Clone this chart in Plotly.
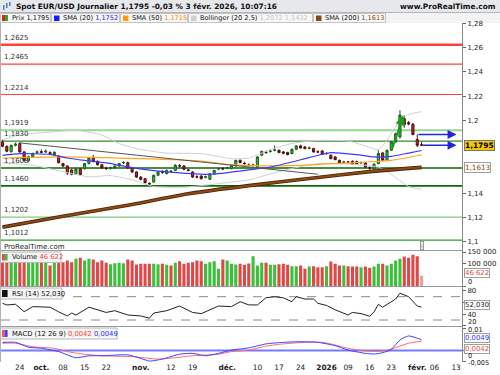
import plotly.graph_objects as go
import pandas as pd

# ------------------------------------------------------------------ data
FIRST_DAY = "2025-09-18"
LAST_AXIS_DAY = "2026-02-13"
MARKET_HOLIDAYS = ["2025-12-25"]

OPEN = [1.1822, 1.1785, 1.1742, 1.1795, 1.1809, 1.1740, 1.1667, 1.1702, 1.1735, 1.1742,
        1.1740, 1.1735, 1.1718, 1.1705, 1.1644, 1.1624, 1.1592, 1.1556, 1.1600, 1.1602,
        1.1644, 1.1691, 1.1663, 1.1635, 1.1605, 1.1606, 1.1608, 1.1624, 1.1650, 1.1652,
        1.1608, 1.1575, 1.1533, 1.1520, 1.1480, 1.1492, 1.1548, 1.1575, 1.1561, 1.1580,
        1.1588, 1.1628, 1.1624, 1.1592, 1.1575, 1.1535, 1.1541, 1.1530, 1.1514, 1.1561,
        1.1600, 1.1602, 1.1606, 1.1602, 1.1624, 1.1671, 1.1646, 1.1632, 1.1630, 1.1616,
        1.1713, 1.1738, 1.1744, 1.1752, 1.1754, 1.1740, 1.1735, 1.1727, 1.1762, 1.1790,
        1.1781, 1.1770, 1.1768, 1.1742, 1.1748, 1.1725, 1.1713, 1.1699, 1.1671, 1.1655,
        1.1658, 1.1663, 1.1660, 1.1650, 1.1649, 1.1610, 1.1600, 1.1644, 1.1731, 1.1671,
        1.1754, 1.1823, 1.1864, 1.2015, 1.1982, 1.1969, 1.1842, 1.1800]
HIGH = [1.1840, 1.1795, 1.1800, 1.1818, 1.1818, 1.1748, 1.1710, 1.1735, 1.1752, 1.1760,
        1.1762, 1.1745, 1.1745, 1.1712, 1.1650, 1.1630, 1.1600, 1.1608, 1.1606, 1.1650,
        1.1695, 1.1715, 1.1670, 1.1640, 1.1618, 1.1620, 1.1630, 1.1650, 1.1665, 1.1660,
        1.1612, 1.1580, 1.1540, 1.1525, 1.1490, 1.1552, 1.1580, 1.1590, 1.1595, 1.1592,
        1.1640, 1.1640, 1.1632, 1.1600, 1.1580, 1.1548, 1.1548, 1.1545, 1.1565, 1.1592,
        1.1612, 1.1614, 1.1618, 1.1635, 1.1676, 1.1678, 1.1660, 1.1645, 1.1642, 1.1705,
        1.1750, 1.1750, 1.1760, 1.1795, 1.1760, 1.1748, 1.1742, 1.1768, 1.1795, 1.1800,
        1.1788, 1.1785, 1.1775, 1.1752, 1.1755, 1.1738, 1.1720, 1.1705, 1.1676, 1.1668,
        1.1666, 1.1670, 1.1668, 1.1662, 1.1655, 1.1620, 1.1645, 1.1754, 1.1740, 1.1760,
        1.1830, 1.1900, 1.2085, 1.2040, 1.1995, 1.1980, 1.1884, 1.1822]
LOW = [1.1780, 1.1738, 1.1735, 1.1785, 1.1735, 1.1660, 1.1655, 1.1695, 1.1722, 1.1728,
       1.1730, 1.1715, 1.1710, 1.1645, 1.1615, 1.1550, 1.1548, 1.1550, 1.1545, 1.1595,
       1.1638, 1.1655, 1.1628, 1.1600, 1.1592, 1.1595, 1.1600, 1.1618, 1.1640, 1.1600,
       1.1568, 1.1525, 1.1505, 1.1480, 1.1468, 1.1485, 1.1540, 1.1560, 1.1555, 1.1568,
       1.1582, 1.1615, 1.1590, 1.1580, 1.1525, 1.1522, 1.1512, 1.1522, 1.1508, 1.1555,
       1.1590, 1.1592, 1.1598, 1.1598, 1.1618, 1.1648, 1.1635, 1.1620, 1.1618, 1.1610,
       1.1705, 1.1725, 1.1735, 1.1745, 1.1730, 1.1722, 1.1712, 1.1720, 1.1755, 1.1768,
       1.1762, 1.1762, 1.1735, 1.1730, 1.1715, 1.1718, 1.1680, 1.1672, 1.1643, 1.1645,
       1.1646, 1.1632, 1.1634, 1.1642, 1.1610, 1.1592, 1.1590, 1.1638, 1.1665, 1.1665,
       1.1748, 1.1815, 1.1850, 1.1940, 1.1960, 1.1878, 1.1780, 1.1790]
CLOSE = [1.1787, 1.1746, 1.1795, 1.1805, 1.1740, 1.1671, 1.1700, 1.1726, 1.1740, 1.1738,
         1.1746, 1.1727, 1.1737, 1.1652, 1.1624, 1.1566, 1.1556, 1.1600, 1.1553, 1.1644,
         1.1691, 1.1660, 1.1635, 1.1608, 1.1603, 1.1610, 1.1624, 1.1644, 1.1652, 1.1608,
         1.1575, 1.1533, 1.1514, 1.1487, 1.1476, 1.1548, 1.1575, 1.1572, 1.1588, 1.1578,
         1.1630, 1.1624, 1.1597, 1.1588, 1.1533, 1.1533, 1.1520, 1.1535, 1.1561, 1.1588,
         1.1602, 1.1600, 1.1608, 1.1630, 1.1671, 1.1652, 1.1644, 1.1630, 1.1632, 1.1699,
         1.1745, 1.1735, 1.1746, 1.1756, 1.1735, 1.1730, 1.1718, 1.1762, 1.1790, 1.1773,
         1.1768, 1.1773, 1.1740, 1.1740, 1.1721, 1.1727, 1.1685, 1.1677, 1.1649, 1.1657,
         1.1655, 1.1638, 1.1640, 1.1652, 1.1616, 1.1608, 1.1640, 1.1727, 1.1671, 1.1754,
         1.1823, 1.1890, 1.2045, 1.1965, 1.1972, 1.1884, 1.1795, 1.1795]
VOLUME = [105800, 104500, 106500, 105000, 104200, 106800, 105500, 104000, 106000, 105200,
          104800, 91300, 105800, 108700, 105800, 113000, 105800, 120300, 124600, 113000,
          120300, 117400, 105800, 113000, 103000, 97100, 101400, 103000, 101400, 117400,
          113000, 95700, 98600, 98600, 98600, 98600, 97100, 98600, 94200, 91300,
          103000, 110100, 98600, 103000, 105800, 113000, 110100, 98600, 105800, 110100,
          76800, 117400, 113000, 98600, 95700, 98600, 94200, 100000, 131900, 91300,
          103000, 103000, 94200, 94200, 97100, 98600, 94200, 88400, 88400, 91300,
          76800, 87000, 88400, 84100, 84100, 88400, 108700, 98600, 91300, 91300,
          88400, 87000, 87000, 84100, 87000, 81200, 87000, 98600, 98600, 91300,
          98600, 113000, 120300, 130400, 124600, 137700, 131900, 46622]

# indicator lines (trading-day index, value)
SMA20_IDX = [0, 4, 11, 15, 19, 24, 31, 38, 48, 57, 62, 67, 70, 74, 76, 82, 86, 90, 94, 97]
SMA20_VAL = [1.1712, 1.1726, 1.1720, 1.1690, 1.1670, 1.1650, 1.1605, 1.1576, 1.1556, 1.1592,
             1.1616, 1.1657, 1.1685, 1.1721, 1.1735, 1.1718, 1.1699, 1.1704, 1.1731, 1.1752]
SMA50_IDX = [0, 13, 32, 46, 53, 60, 69, 77, 84, 90, 97]
SMA50_VAL = [1.1690, 1.1700, 1.1685, 1.1665, 1.1635, 1.1625, 1.1630, 1.1644, 1.1657, 1.1671, 1.1715]
SMA200_IDX = [0, 14, 29, 43, 57, 72, 85, 97]
SMA200_VAL = [1.1120, 1.1210, 1.1300, 1.1395, 1.1462, 1.1525, 1.1578, 1.1613]
BB_UP_IDX = [0, 4, 13, 17, 23, 27, 32, 38, 46, 53, 57, 62, 67, 73, 80, 84, 87, 90, 92, 94, 97]
BB_UP_VAL = [1.1840, 1.1880, 1.1910, 1.1919, 1.1880, 1.1809, 1.1760, 1.1731, 1.1726, 1.1685,
             1.1690, 1.1760, 1.1810, 1.1835, 1.1830, 1.1790, 1.1760, 1.1890, 1.2000, 1.2050, 1.2072]
BB_LO_IDX = [0, 7, 15, 20, 25, 30, 35, 42, 48, 53, 57, 65, 73, 80, 87, 91, 94, 97]
BB_LO_VAL = [1.1650, 1.1630, 1.1570, 1.1535, 1.1545, 1.1510, 1.1455, 1.1450, 1.1470, 1.1492,
             1.1510, 1.1588, 1.1644, 1.1640, 1.1615, 1.1530, 1.1455, 1.1432]

RSI_IDX = [0, 1, 3, 5, 7, 11, 13, 15, 16, 17, 20, 24, 26, 29, 32, 34, 35, 38, 41, 44, 46, 50,
           53, 55, 57, 59, 61, 63, 65, 67, 68, 70, 72, 73, 75, 77, 80, 81, 83, 85, 86, 87, 88,
           90, 91, 92, 94, 96, 97]
RSI_VAL = [58.7, 55.8, 57.0, 44.3, 52.9, 52.0, 44.0, 37.0, 42.0, 38.6, 52.0, 43.0, 46.0, 38.6,
           37.0, 33.0, 42.0, 46.0, 54.0, 43.0, 41.0, 54.0, 53.0, 61.4, 56.0, 55.8, 68.3, 70.0,
           68.0, 61.4, 70.0, 66.0, 66.0, 58.7, 55.0, 47.5, 38.6, 43.0, 41.0, 36.5, 44.0, 57.0,
           52.0, 61.4, 66.0, 76.0, 70.0, 54.0, 52.03]

MACD_IDX = [0, 3, 6, 9, 13, 17, 20, 23, 29, 32, 34, 37, 41, 44, 47, 50, 53, 57, 61, 65, 69,
            73, 77, 80, 84, 86, 88, 90, 92, 94, 97]
MACD_VAL = [0.0037, 0.0037, 0.0015, 0.0010, -0.0005, -0.0033, -0.0024, -0.0024, -0.0020,
            -0.0036, -0.0048, -0.0039, -0.0017, -0.0013, -0.0024, -0.0013, 0.0002, 0.0012,
            0.0030, 0.0037, 0.0040, 0.0037, 0.0022, 0.0002, -0.0013, -0.0016, -0.0010, 0.0005,
            0.0048, 0.0066, 0.0049]
SIG_IDX = [0, 3, 7, 12, 15, 19, 23, 30, 36, 40, 44, 50, 53, 57, 61, 65, 70, 74, 77, 80, 84,
           88, 91, 94, 97]
SIG_VAL = [0.0033, 0.0033, 0.0017, 0.0010, -0.0005, -0.0017, -0.0024, -0.0028, -0.0039, -0.0033,
           -0.0024, -0.0017, -0.0005, 0.0002, 0.0020, 0.0030, 0.0037, 0.0037, 0.0025, 0.0010,
           -0.0002, -0.0003, 0.0013, 0.0033, 0.0042]

LEVELS = [1.2625, 1.2465, 1.2214, 1.1919, 1.1830, 1.1608, 1.1460, 1.1202, 1.1012]
LEVEL_TEXT = ["1,2625", "1,2465", "1,2214", "1,1919", "1,1830", "1,1608", "1,1460", "1,1202", "1,1012"]

TREND_IDX = [4, 73]
TREND_VAL = [1.1815, 1.1556]

TICK_DATES = ["2025-09-24", "2025-10-01", "2025-10-08", "2025-10-15", "2025-10-22",
              "2025-11-03", "2025-11-12", "2025-11-19", "2025-12-01", "2025-12-10",
              "2025-12-17", "2025-12-24", "2026-01-02", "2026-01-09", "2026-01-16",
              "2026-01-23", "2026-02-02", "2026-02-06", "2026-02-13"]
TICK_TEXT = ["24", "<b>oct.</b>", "08", "15", "22", "<b>nov.</b>", "12", "19", "<b>déc.</b>",
             "10", "17", "24", "<b>2026</b>", "09", "16", "23", "<b>févr.</b>", "06", "13"]

PRICE_TICKS = [1.10, 1.12, 1.14, 1.20, 1.22, 1.24, 1.26, 1.28]
PRICE_TICK_TEXT = ["1,1", "1,12", "1,14", "1,2", "1,22", "1,24", "1,26", "1,28"]

VOL_TICKS = [0, 100000, 150000]
VOL_TICK_TEXT = ["0", "100 000", "150 000"]
RSI_TICKS = [20, 40, 60, 80]
MACD_TICKS = [-0.005, 0, 0.01]
MACD_TICK_TEXT = ["-0,005", "0", "0,01"]

# ------------------------------------------------------------------ layout helpers
FONT = "DejaVu Sans"
W, H = 500, 375
ML, MR, MT, MB = 1, 38, 23, 13
PW, PH = W - ML - MR, H - MT - MB


def px(x):
    return (x - ML) / PW


def py(y):
    return (H - MB - y) / PH


days = [d.strftime("%Y-%m-%d") for d in pd.bdate_range(FIRST_DAY, LAST_AXIS_DAY)
        if d.strftime("%Y-%m-%d") not in MARKET_HOLIDAYS]
pos = {d: i for i, d in enumerate(days)}
xs = list(range(len(OPEN)))
tickvals = [pos[d] for d in TICK_DATES]

GREEN = "#3cc03c"
RED = "#e04848"
vol_colors = [GREEN if CLOSE[i] >= OPEN[i] else RED for i in xs]
vol_colors[-1] = "#eaa0a0"

fig = go.Figure()

# Bollinger
fig.add_trace(go.Scatter(x=BB_UP_IDX, y=BB_UP_VAL, mode="lines", line=dict(color="#cfcfcf", width=1, shape="spline", smoothing=0.6)))
fig.add_trace(go.Scatter(x=BB_LO_IDX, y=BB_LO_VAL, mode="lines", line=dict(color="#cfcfcf", width=1, shape="spline", smoothing=0.6)))
# SMA 200
fig.add_trace(go.Scatter(x=SMA200_IDX, y=SMA200_VAL, mode="lines", line=dict(color="#4a2206", width=3.6, shape="spline", smoothing=0.5)))
fig.add_trace(go.Scatter(x=SMA200_IDX, y=SMA200_VAL, mode="lines", line=dict(color="#8b4a16", width=2, shape="spline", smoothing=0.5)))
# SMA 50 / 20
fig.add_trace(go.Scatter(x=SMA50_IDX, y=SMA50_VAL, mode="lines", line=dict(color="#ffa424", width=1.2, shape="spline", smoothing=0.6)))
fig.add_trace(go.Scatter(x=SMA20_IDX, y=SMA20_VAL, mode="lines", line=dict(color="#3a3aff", width=1.2, shape="spline", smoothing=0.6)))
# trend line
fig.add_trace(go.Scatter(x=TREND_IDX, y=TREND_VAL, mode="lines", line=dict(color="#555555", width=1)))
# candles
fig.add_trace(go.Candlestick(
    x=xs, open=OPEN, high=HIGH, low=LOW, close=CLOSE,
    increasing=dict(line=dict(color="#1f5a1f", width=1), fillcolor="#2ec22e"),
    decreasing=dict(line=dict(color="#4a1010", width=1), fillcolor="#e01c1c"),
    whiskerwidth=0))

# volume
fig.add_trace(go.Bar(x=xs, y=VOLUME, marker=dict(color=vol_colors, line=dict(width=0)), width=0.72, yaxis="y2"))
# RSI
fig.add_trace(go.Scatter(x=RSI_IDX, y=RSI_VAL, mode="lines", line=dict(color="#222222", width=1), yaxis="y3"))
# MACD
fig.add_trace(go.Scatter(x=SIG_IDX, y=SIG_VAL, mode="lines", line=dict(color="#ff6a6a", width=1, shape="spline", smoothing=0.6), yaxis="y4"))
fig.add_trace(go.Scatter(x=MACD_IDX, y=MACD_VAL, mode="lines", line=dict(color="#4040ff", width=1, shape="spline", smoothing=0.6), yaxis="y4"))

shapes = []
annotations = []

# support / resistance levels
LEVEL_STYLE = [("#ff4040", 2.5), ("#ff4040", 1.2), ("#ff4040", 1.2), ("#94d894", 2.0),
               ("#2e8b2e", 1.2), ("#0a6a0a", 1.6), ("#0a6a0a", 1.6), ("#80cc80", 1.2),
               ("#2e9a2e", 1.2)]
for lv, txt, (col, wd) in zip(LEVELS, LEVEL_TEXT, LEVEL_STYLE):
    shapes.append(dict(type="line", xref="paper", x0=0, x1=1, yref="y", y0=lv, y1=lv,
                       line=dict(color=col, width=wd), layer="below"))
    annotations.append(dict(text=txt, xref="paper", x=px(2), xanchor="left", yref="y", y=lv,
                            yanchor="bottom", yshift=1, showarrow=False,
                            font=dict(size=7, color="#333")))

# RSI dashed levels and MACD zero line
for v in (70, 30):
    shapes.append(dict(type="line", xref="paper", x0=0, x1=1, yref="y3", y0=v, y1=v,
                       line=dict(color="#8a8a8a", width=1, dash="dash"), layer="below"))
shapes.append(dict(type="line", xref="paper", x0=0, x1=1, yref="y4", y0=0, y1=0,
                   line=dict(color="#7878ff", width=2), layer="below"))

# panel separators
for yy in (250.5, 286.5, 326.5):
    shapes.append(dict(type="line", xref="paper", yref="paper", x0=px(0), x1=px(462),
                       y0=py(yy), y1=py(yy), line=dict(color="#9a9a9a", width=1)))
shapes.append(dict(type="line", xref="paper", yref="paper", x0=px(0.5), x1=px(0.5),
                   y0=py(23), y1=py(362), line=dict(color="#b0b0b0", width=1)))

# header bars
shapes.append(dict(type="rect", xref="paper", yref="paper", x0=px(0), x1=px(500), y0=py(0), y1=py(12.5),
                   fillcolor="#e6e8eb", line=dict(width=0), layer="below"))
shapes.append(dict(type="line", xref="paper", yref="paper", x0=px(0), x1=px(500), y0=py(12.5), y1=py(12.5),
                   line=dict(color="#b5b5b5", width=1)))
shapes.append(dict(type="rect", xref="paper", yref="paper", x0=px(0), x1=px(500), y0=py(12.5), y1=py(23),
                   fillcolor="#f3f3f3", line=dict(width=0), layer="below"))
# title icon
for x0, y0, y1 in ((3, 5, 10), (6, 3, 8), (9, 2, 6)):
    shapes.append(dict(type="rect", xref="paper", yref="paper", x0=px(x0), x1=px(x0 + 1.6),
                       y0=py(y1), y1=py(y0), fillcolor="#4d86c6", line=dict(width=0)))
annotations.append(dict(text="<b>Spot EUR/USD Journalier 1,1795 -0,03 % 3 févr. 2026, 10:07:16</b>",
                        xref="paper", yref="paper", x=px(14), y=py(6.3), xanchor="left", yanchor="middle",
                        showarrow=False, font=dict(size=7.4, color="#111")))
annotations.append(dict(text="<b>www.ProRealTime.com</b>", xref="paper", yref="paper", x=px(498), y=py(6.3),
                        xanchor="right", yanchor="middle", showarrow=False, font=dict(size=7.4, color="#111")))

# legend items
items = [
    (0, 51, ["#e02020", "#20b020"], 'Prix 1,1795'),
    (51, 120, ["#1a1aff"], 'SMA (20) <span style="color:#2020ff">1,1752</span>'),
    (120, 188, ["#ff9a10"], 'SMA (50) <span style="color:#f09000">1,1715</span>'),
    (188, 313, ["#cfcfcf"], 'Bollinger (20 2,5) <span style="color:#c4c4c4">1,2072</span> <span style="color:#c4c4c4">1,1432</span>'),
    (313, 386, ["#8b4513"], 'SMA (200) <span style="color:#8b4513">1,1613</span>'),
]
for x0, x1, cols, txt in items:
    shapes.append(dict(type="rect", xref="paper", yref="paper", x0=px(x0 + 0.5), x1=px(x1 - 0.5),
                       y0=py(22.5), y1=py(13.5), fillcolor="#f7f7f7", line=dict(color="#c4c4c4", width=1),
                       layer="below"))
    if len(cols) == 2:
        shapes.append(dict(type="rect", xref="paper", yref="paper", x0=px(x0 + 2), x1=px(x0 + 5),
                           y0=py(21), y1=py(15), fillcolor=cols[0], line=dict(width=0)))
        shapes.append(dict(type="rect", xref="paper", yref="paper", x0=px(x0 + 5), x1=px(x0 + 8),
                           y0=py(21), y1=py(15), fillcolor=cols[1], line=dict(width=0)))
    else:
        shapes.append(dict(type="rect", xref="paper", yref="paper", x0=px(x0 + 3), x1=px(x0 + 8.5),
                           y0=py(21), y1=py(15.5), fillcolor=cols[0], line=dict(width=0)))
    annotations.append(dict(text=txt, xref="paper", yref="paper", x=px(x0 + 10), y=py(18),
                            xanchor="left", yanchor="middle", showarrow=False,
                            font=dict(size=6.6, color="#111")))

# panel title boxes
panel_boxes = [
    (252, 262.5, 61, ["#e04848", "#3cc03c"], 'Volume <span style="color:#e04848">46 622</span>'),
    (288, 299, 62, ["#111111"], 'RSI (14) 52,030'),
    (328, 339, 117, ["#ff5050", "#4040ff"], 'MACD (12 26 9) <span style="color:#ff4040">0,0042</span> <span style="color:#3030ff">0,0049</span>'),
]
for y0, y1, x1, cols, txt in panel_boxes:
    shapes.append(dict(type="rect", xref="paper", yref="paper", x0=px(0.5), x1=px(x1), y0=py(y1), y1=py(y0),
                       fillcolor="rgba(244,244,244,0.92)", line=dict(color="#b8b8b8", width=1)))
    if len(cols) == 2:
        shapes.append(dict(type="rect", xref="paper", yref="paper", x0=px(2), x1=px(4.8),
                           y0=py(y1 - 2), y1=py(y0 + 2), fillcolor=cols[0], line=dict(width=0)))
        shapes.append(dict(type="rect", xref="paper", yref="paper", x0=px(4.8), x1=px(7.6),
                           y0=py(y1 - 2), y1=py(y0 + 2), fillcolor=cols[1], line=dict(width=0)))
    else:
        shapes.append(dict(type="rect", xref="paper", yref="paper", x0=px(2), x1=px(7.6),
                           y0=py(y1 - 2), y1=py(y0 + 2), fillcolor=cols[0], line=dict(width=0)))
    annotations.append(dict(text=txt, xref="paper", yref="paper", x=px(9.5), y=py((y0 + y1) / 2),
                            xanchor="left", yanchor="middle", showarrow=False,
                            font=dict(size=6.8, color="#111")))

annotations.append(dict(text="ProRealTime.com", xref="paper", yref="paper", x=px(2), y=py(246.5),
                        xanchor="left", yanchor="middle", showarrow=False, font=dict(size=7, color="#222")))
annotations.append(dict(text="i", xref="paper", yref="paper", x=px(421.5), y=py(245), xanchor="center",
                        yanchor="middle", showarrow=False, font=dict(size=6, color="#777"),
                        bgcolor="#f6f6f6", bordercolor="#9a9a9a", borderwidth=1, borderpad=0))

# drawn arrows
annotations.append(dict(x=92.8, y=1.2043, ax=90.1, ay=1.1754, xref="x", yref="y", axref="x", ayref="y",
                        showarrow=True, arrowhead=2, arrowsize=1, arrowwidth=2, arrowcolor="#1e9a1e", text=""))
annotations.append(dict(x=105.1, y=1.1884, ax=95.9, ay=1.1884, xref="x", yref="y", axref="x", ayref="y",
                        showarrow=True, arrowhead=2, arrowsize=1.2, arrowwidth=1.5, arrowcolor="#2626d6", text=""))
annotations.append(dict(x=105.1, y=1.1795, ax=97.0, ay=1.1795, xref="x", yref="y", axref="x", ayref="y",
                        showarrow=True, arrowhead=2, arrowsize=1.2, arrowwidth=1.5, arrowcolor="#2626d6", text=""))


# right side value labels (boxed)
def rlabel(text, yref, y, color, bg="#ffffff", border="#a0a0a0", bold=False, yshift=0, size=6.9):
    annotations.append(dict(text=("<b>%s</b>" % text) if bold else text, xref="paper", x=px(464.5),
                            xanchor="left", yref=yref, y=y, yanchor="middle", yshift=yshift,
                            showarrow=False, font=dict(size=size, color=color), bgcolor=bg,
                            bordercolor=border, borderwidth=1, borderpad=0))


# plain right-axis labels placed at pixel rows (crowded small panels)
def alabel(text, ypix, size=6.6):
    annotations.append(dict(text=text, xref="paper", x=px(465.5), xanchor="left", yref="paper", y=py(ypix),
                            yanchor="middle", showarrow=False, font=dict(size=size, color="#222")))


rlabel("1,1795", "y", CLOSE[-1], "#000000", bg="#f5c800", border="#777", bold=True, size=7.4)
rlabel("1,1613", "y", SMA200_VAL[-1], "#8b4513", size=7.2)
rlabel("46 622", "y2", VOLUME[-1], "#e04848", yshift=2.5)
rlabel("52,030", "y3", RSI_VAL[-1], "#222222", yshift=2)
rlabel("0,0049", "y4", MACD_VAL[-1], "#3030ff", yshift=1.5)
rlabel("0,0042", "y4", SIG_VAL[-1], "#e84848", yshift=-7.5)

alabel(VOL_TICK_TEXT[0], 282.3)
alabel("20", 322)
alabel(MACD_TICK_TEXT[2], 329.8)
alabel(MACD_TICK_TEXT[1], 355.6)
alabel(MACD_TICK_TEXT[0], 363.2)

yax_common = dict(side="right", anchor="x", showgrid=False, zeroline=False, ticks="outside", ticklen=3,
                  tickcolor="#666", tickfont=dict(size=7, color="#222", family=FONT), showline=True,
                  linecolor="#8a8a8a", linewidth=1, fixedrange=True, automargin=False)

fig.update_layout(
    width=W, height=H, margin=dict(l=ML, r=MR, t=MT, b=MB, pad=0, autoexpand=False),
    paper_bgcolor="white", plot_bgcolor="white", showlegend=False,
    font=dict(family=FONT, size=7, color="#222"),
    xaxis=dict(domain=[0, 1], anchor="y4", range=[-0.35, 106.36], tickvals=tickvals, ticktext=TICK_TEXT,
               tickfont=dict(size=7.4, color="#222"), showgrid=False, zeroline=False, showline=False,
               ticks="", rangeslider=dict(visible=False), fixedrange=True, automargin=False),
    yaxis=dict(domain=[py(250.5), 1], range=[1.0927, 1.2804], tickvals=PRICE_TICKS, ticktext=PRICE_TICK_TEXT,
               **yax_common),
    yaxis2=dict(domain=[py(286.5), py(250.5)], range=[0, 156500], tickvals=VOL_TICKS,
                ticktext=["", VOL_TICK_TEXT[1], VOL_TICK_TEXT[2]], **yax_common),
    yaxis3=dict(domain=[py(326.5), py(286.5)], range=[18.9, 87.5], tickvals=RSI_TICKS,
                ticktext=["", "40", "", "80"], **yax_common),
    yaxis4=dict(domain=[0, py(326.5)], range=[-0.00523, 0.0109], tickvals=MACD_TICKS,
                ticktext=["", "", ""], **yax_common),
    shapes=shapes, annotations=annotations,
)

fig.write_html("out.html", config={"displayModeBar": False, "staticPlot": True},
               post_script="document.body.style.margin='0';document.body.style.padding='0';document.body.style.overflow='hidden';")
